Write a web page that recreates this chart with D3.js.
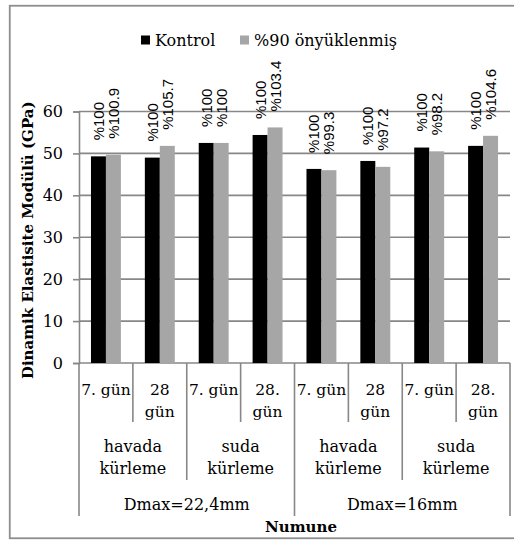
<!DOCTYPE html>
<html>
<head>
<meta charset="utf-8">
<script src="https://cdn.jsdelivr.net/npm/d3@7"></script>
<style>
  html, body { margin: 0; padding: 0; background: #fff; }
  svg { display: block; }
</style>
</head>
<body>
<svg id="chart" width="514" height="541"></svg>
<script>
// Dynamic modulus of elasticity (GPa) per specimen group
const dayLabels = [["7. gün"], ["28", "gün"], ["7. gün"], ["28.", "gün"],
                   ["7. gün"], ["28", "gün"], ["7. gün"], ["28.", "gün"]];
const curingLabels = [["havada", "kürleme"], ["suda", "kürleme"],
                      ["havada", "kürleme"], ["suda", "kürleme"]];
const dmaxLabels = ["Dmax=22,4mm", "Dmax=16mm"];
const seriesNames = ["Kontrol", "%90 önyüklenmiş"];
const kontrolValues = [49.3, 49.0, 52.5, 54.4, 46.3, 48.2, 51.4, 51.8];
const preloadValues = [49.7, 51.8, 52.5, 56.2, 46.0, 46.8, 50.5, 54.2];
const kontrolPct = ["%100", "%100", "%100", "%100", "%100", "%100", "%100", "%100"];
const preloadPct = ["%100.9", "%105.7", "%100", "%103.4", "%99.3", "%97.2", "%98.2", "%104.6"];
const yTicks = [0, 10, 20, 30, 40, 50, 60];

const colors = ["#000000", "#a6a6a6"];
const gridColor = "#878787";
const serif = "'DejaVu Serif', serif";

const svg = d3.select("#chart");

// outer chart frame
svg.append("rect")
  .attr("x", 9.75).attr("y", 5.75)
  .attr("width", 540).attr("height", 532.5)
  .attr("fill", "none").attr("stroke", "#8e8e8e").attr("stroke-width", 1.8);

const plotLeft = 79, plotRight = 510, plotTop = 111.5, plotBottom = 363;
const idx = d3.range(dayLabels.length);

const x0 = d3.scaleBand().domain(idx).range([plotLeft, plotRight]).padding(0);
const x1 = d3.scaleBand().domain([0, 1]).range([0, x0.bandwidth()])
  .paddingInner(0).paddingOuter(0.8);
const y = d3.scaleLinear().domain([0, 60]).range([plotBottom, plotTop]);

// horizontal gridlines
svg.append("g").selectAll("line").data(yTicks).join("line")
  .attr("x1", plotLeft).attr("x2", plotRight)
  .attr("y1", d => y(d)).attr("y2", d => y(d))
  .attr("stroke", gridColor).attr("stroke-width", 1.6);

// y axis with ticks and labels
const yAxis = svg.append("g")
  .attr("transform", `translate(${plotLeft},0)`)
  .call(d3.axisLeft(y).tickValues(yTicks).tickSize(6).tickPadding(10).tickFormat(d3.format("d")));
yAxis.select(".domain").attr("stroke", gridColor).attr("stroke-width", 1.6);
yAxis.selectAll(".tick line").attr("stroke", gridColor).attr("stroke-width", 1.6);
yAxis.selectAll(".tick text")
  .attr("font-family", serif).attr("font-size", 16).attr("fill", "#000");

// bars
const series = [kontrolValues, preloadValues];
const groups = svg.append("g").selectAll("g").data(idx).join("g")
  .attr("transform", i => `translate(${x0(i)},0)`);
groups.selectAll("rect")
  .data(i => series.map((vals, s) => ({ s, v: vals[i] })))
  .join("rect")
  .attr("x", d => x1(d.s))
  .attr("width", x1.bandwidth())
  .attr("y", d => y(d.v))
  .attr("height", d => y(0) - y(d.v))
  .attr("fill", d => colors[d.s]);

// rotated percentage labels above each bar
const pctSeries = [kontrolPct, preloadPct];
groups.selectAll("text.pct")
  .data(i => series.map((vals, s) => ({ s, v: vals[i], t: pctSeries[s][i] })))
  .join("text")
  .attr("class", "pct")
  .attr("transform", d => `translate(${x1(d.s) + x1.bandwidth() / 2},${y(d.v) - 16}) rotate(-90)`)
  .attr("text-anchor", "start")
  .attr("dominant-baseline", "central")
  .attr("font-family", "'Liberation Sans', Arial, sans-serif")
  .attr("font-size", 15)
  .attr("fill", "#000")
  .text(d => d.t);

// category separators below the axis (deeper for higher levels)
const sepDepth = i => (i % 4 === 0 ? 516 : (i % 2 === 0 ? 480 : 422));
svg.append("g").selectAll("line").data(d3.range(dayLabels.length + 1)).join("line")
  .attr("x1", i => plotLeft + i * x0.step()).attr("x2", i => plotLeft + i * x0.step())
  .attr("y1", plotBottom).attr("y2", i => sepDepth(i))
  .attr("stroke", gridColor).attr("stroke-width", 1.6);

// day labels
const dayText = svg.append("g").selectAll("text").data(idx).join("text")
  .attr("font-family", serif).attr("font-size", 15.5).attr("text-anchor", "middle")
  .attr("x", i => x0(i) + x0.bandwidth() / 2);
dayText.selectAll("tspan").data(i => dayLabels[i]).join("tspan")
  .attr("x", function () { return this.parentNode.getAttribute("x"); })
  .attr("y", (d, k) => 395 + k * 22)
  .text(d => d);

// curing method labels
const curText = svg.append("g").selectAll("text").data(curingLabels).join("text")
  .attr("font-family", serif).attr("font-size", 16).attr("text-anchor", "middle")
  .attr("x", (d, g) => plotLeft + (g * 2 + 1) * x0.step());
curText.selectAll("tspan").data(d => d).join("tspan")
  .attr("x", function () { return this.parentNode.getAttribute("x"); })
  .attr("y", (d, k) => 452 + k * 21.5)
  .text(d => d);

// max aggregate size labels
svg.append("g").selectAll("text").data(dmaxLabels).join("text")
  .attr("font-family", serif).attr("font-size", 16).attr("text-anchor", "middle")
  .attr("x", (d, g) => plotLeft + (g * 4 + 2) * x0.step())
  .attr("y", 510)
  .text(d => d);

// axis titles
svg.append("text")
  .attr("x", 301).attr("y", 532)
  .attr("font-family", serif).attr("font-size", 15).attr("font-weight", "bold")
  .attr("text-anchor", "middle")
  .text("Numune");

svg.append("text")
  .attr("transform", `translate(28,${(plotTop + plotBottom) / 2 + 3}) rotate(-90)`)
  .attr("font-family", serif).attr("font-size", 15).attr("font-weight", "bold")
  .attr("text-anchor", "middle").attr("dominant-baseline", "central")
  .text("Dinamik Elastisite Modülü (GPa)");

// legend
const legend = svg.append("g");
const legendItems = [{ name: seriesNames[0], x: 141 }, { name: seriesNames[1], x: 240 }];
legendItems.forEach((item, s) => {
  legend.append("rect")
    .attr("x", item.x).attr("y", 35.5).attr("width", 9).attr("height", 9)
    .attr("fill", colors[s]);
  legend.append("text")
    .attr("x", item.x + 14).attr("y", 46)
    .attr("font-family", serif).attr("font-size", 16).attr("fill", "#000")
    .text(item.name);
});
</script>
</body>
</html>
